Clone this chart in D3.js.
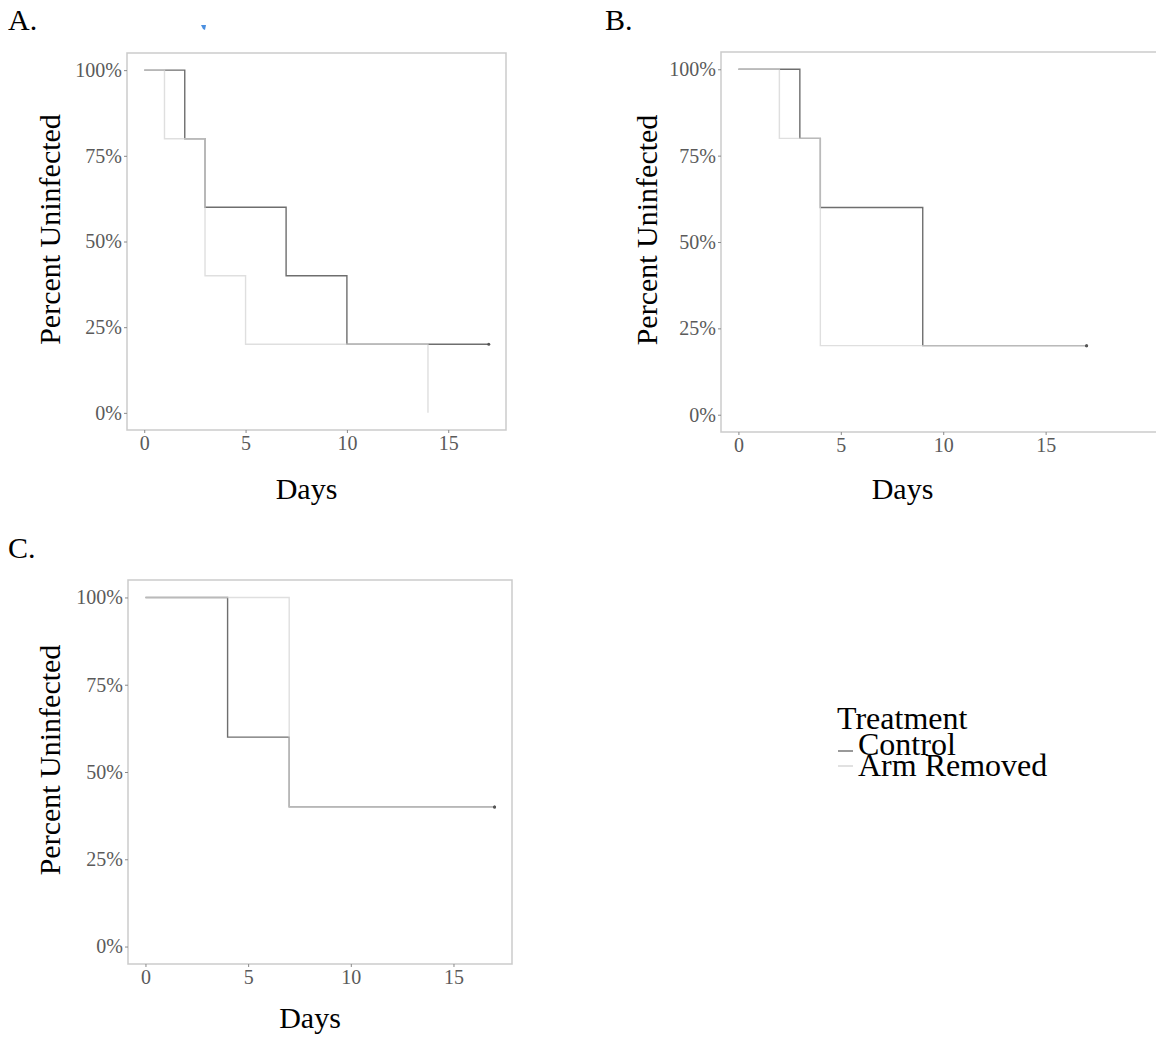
<!DOCTYPE html>
<html>
<head>
<meta charset="utf-8">
<script src="https://cdn.jsdelivr.net/npm/d3@7"></script>
<style>
  body { margin: 0; background: #fff; }
  svg { display: block; font-family: "Liberation Serif", "Times New Roman", serif; }
</style>
</head>
<body>
<div id="chart"></div>
<script>
// Kaplan-Meier style step data
const treatments = ["Control", "Arm Removed"];
const xTicks = [0, 5, 10, 15];
const yTicks = [0, 0.25, 0.5, 0.75, 1];

// panel A
const aControlDays = [0, 2, 3, 7, 10, 17];
const aControlSurv = [1, 0.8, 0.6, 0.4, 0.2, 0.2];
const aArmDays = [0, 1, 3, 5, 14];
const aArmSurv = [1, 0.8, 0.4, 0.2, 0];

// panel B
const bControlDays = [0, 3, 4, 9, 17];
const bControlSurv = [1, 0.8, 0.6, 0.2, 0.2];
const bArmDays = [0, 2, 4, 17];
const bArmSurv = [1, 0.8, 0.2, 0.2];

// panel C
const cControlDays = [0, 4, 7, 17];
const cControlSurv = [1, 0.6, 0.4, 0.4];
const cArmDays = [0, 7, 17];
const cArmSurv = [1, 0.4, 0.4];

const W = 1156, H = 1042;
const svg = d3.select("#chart").append("svg")
  .attr("width", W).attr("height", H);

const colors = { "Control": "#6e6e6e", "Arm Removed": "#d4d4d4" };

function toPoints(days, surv) {
  return days.map((d, i) => ({ t: d, s: surv[i] }));
}

// frame = panel border, range = where the scale lives (B is clipped on the right)
const panels = [
  { label: "A.", lx: 8, ly: 30,
    frame: [127, 53, 506, 430], xr: [127, 506],
    series: [toPoints(aControlDays, aControlSurv), toPoints(aArmDays, aArmSurv)],
    ylabX: 50, daysY: 499 },
  { label: "B.", lx: 605, ly: 30,
    frame: [721, 52, 1170, 432], xr: [721, 1104],
    series: [toPoints(bControlDays, bControlSurv), toPoints(bArmDays, bArmSurv)],
    ylabX: 647, daysY: 499 },
  { label: "C.", lx: 8, ly: 558,
    frame: [128, 580, 512, 964], xr: [128, 512],
    series: [toPoints(cControlDays, cControlSurv), toPoints(cArmDays, cArmSurv)],
    ylabX: 50, daysY: 1028 }
];

// tiny blue mark in the original scan
svg.append("path")
  .attr("d", "M201,25 L206,25 L205,30 L203,29 Z")
  .attr("fill", "#4a8fe0");

panels.forEach(p => {
  const [fx0, fy0, fx1, fy1] = p.frame;
  const x = d3.scaleLinear().domain([-0.85, 17.85]).range(p.xr);
  const y = d3.scaleLinear().domain([-0.05, 1.05]).range([fy1, fy0]);
  const g = svg.append("g");

  g.append("text")
    .attr("x", p.lx).attr("y", p.ly)
    .attr("font-size", 30).attr("fill", "#000")
    .text(p.label);

  g.append("rect")
    .attr("x", fx0).attr("y", fy0)
    .attr("width", fx1 - fx0).attr("height", fy1 - fy0)
    .attr("fill", "none").attr("stroke", "#cbcbcb").attr("stroke-width", 1.5);

  // axes
  const yAxis = g.append("g")
    .attr("transform", `translate(${fx0},0)`)
    .call(d3.axisLeft(y).tickValues(yTicks).tickSize(3).tickPadding(2)
      .tickFormat(d3.format(".0%")));
  const xAxis = g.append("g")
    .attr("transform", `translate(0,${fy1})`)
    .call(d3.axisBottom(x).tickValues(xTicks).tickSize(3).tickPadding(3));
  [yAxis, xAxis].forEach(a => {
    a.select(".domain").remove();
    a.selectAll("line").attr("stroke", "#8a8a8a");
    a.selectAll("text")
      .attr("font-family", "Liberation Serif")
      .attr("font-size", 20).attr("fill", "#5a5a5a");
  });

  // axis titles
  g.append("text")
    .attr("transform", `translate(${p.ylabX + 10},${(fy0 + fy1) / 2 - 12}) rotate(-90)`)
    .attr("text-anchor", "middle")
    .attr("font-size", 30).attr("fill", "#000")
    .text("Percent Uninfected");
  g.append("text")
    .attr("x", (p.xr[0] + Math.min(p.xr[1], fx1)) / 2 - 10)
    .attr("y", p.daysY)
    .attr("text-anchor", "middle")
    .attr("font-size", 30).attr("fill", "#000")
    .text("Days");

  const line = d3.line()
    .x(d => x(d.t)).y(d => y(d.s))
    .curve(d3.curveStepAfter);

  p.series.forEach((pts, i) => {
    const name = treatments[i];
    g.append("path")
      .datum(pts)
      .attr("d", line)
      .attr("fill", "none")
      .attr("stroke", colors[name])
      .attr("stroke-width", 1.4)
      .attr("stroke-opacity", i == 1 ? 0.75 : 1);
  });

  // censor marks at the end of follow-up
  p.series.forEach(pts => {
    const last = pts[pts.length - 1];
    if (last.t == 17) {
      g.append("circle")
        .attr("cx", x(last.t)).attr("cy", y(last.s))
        .attr("r", 1.5).attr("fill", "#555");
    }
  });
});

// legend
const legend = svg.append("g");
legend.append("text")
  .attr("x", 837).attr("y", 729)
  .attr("font-size", 32).attr("fill", "#000")
  .text("Treatment");
treatments.forEach((name, i) => {
  const yy = 751 + i * 15;
  legend.append("line")
    .attr("x1", 838).attr("x2", 853)
    .attr("y1", yy).attr("y2", yy)
    .attr("stroke", colors[name]).attr("stroke-width", 1.4);
  legend.append("text")
    .attr("x", 858).attr("y", 755 + i * 21)
    .attr("font-size", 32).attr("fill", "#000")
    .text(name);
});
</script>
</body>
</html>
